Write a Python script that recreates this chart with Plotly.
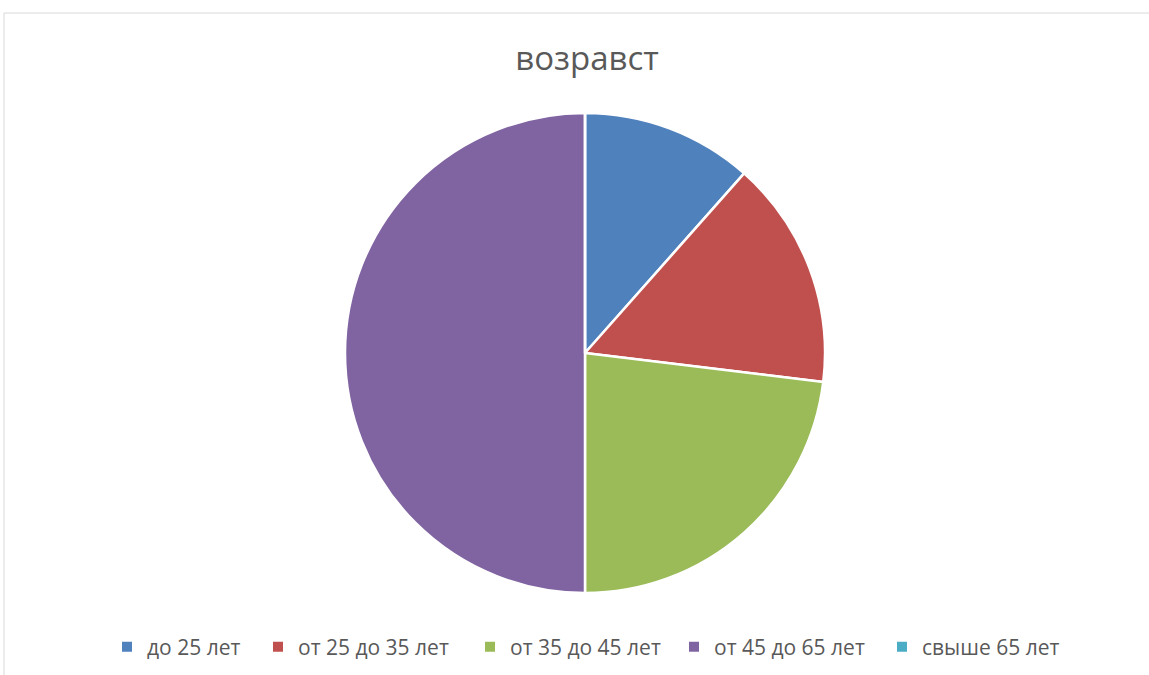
import plotly.graph_objects as go

categories = ["до 25 лет", "от 25 до 35 лет", "от 35 до 45 лет", "от 45 до 65 лет", "свыше 65 лет"]
values = [3, 4, 6, 13, 0]
colors = ["#4F81BD", "#C0504D", "#9BBB59", "#8064A2", "#4BACC6"]
title_text = "возравст"

W, H = 1149, 675
cx, cy, r = 585, 353, 240
legend_marker_x = [128, 279, 491, 695, 903]
legend_y = 647

fig = go.Figure()
fig.add_trace(go.Pie(
    labels=categories,
    values=values,
    sort=False,
    direction="clockwise",
    rotation=0,
    marker=dict(colors=colors, line=dict(color="white", width=2.5)),
    textinfo="none",
    hoverinfo="label+value+percent",
    showlegend=False,
    domain=dict(x=[(2 * cx) / W - 1, 1.0], y=[(H - cy - r) / H, (H - cy + r) / H]),
))

legend_layout = {}
for i, (cat, col, mx) in enumerate(zip(categories, colors, legend_marker_x)):
    name = "legend" if i == 0 else f"legend{i + 1}"
    fig.add_trace(go.Scatter(
        x=[None], y=[None], mode="markers", name=cat,
        marker=dict(symbol="square", size=10, color=col),
        legend=name, showlegend=True, hoverinfo="skip",
    ))
    legend_layout[name] = dict(
        orientation="h", x=(mx - 21) / W, xanchor="left", y=1 - legend_y / H, yanchor="middle",
        font=dict(family="Open Sans", size=21, color="#595959"),
        bgcolor="rgba(0,0,0,0)", borderwidth=0,
    )

fig.update_layout(
    width=W, height=H,
    margin=dict(l=0, r=0, t=0, b=0, autoexpand=False),
    paper_bgcolor="white",
    plot_bgcolor="white",
    xaxis=dict(visible=False),
    yaxis=dict(visible=False),
    title=dict(text=title_text, x=587 / W, xanchor="center", y=1 - 58 / H, yanchor="middle",
               font=dict(family="Open Sans", size=33, color="#595959")),
    showlegend=True,
    shapes=[dict(type="rect", xref="paper", yref="paper", x0=4 / W, x1=1.2, y0=-0.2, y1=1 - 13 / H,
                 line=dict(color="#D9D9D9", width=1), fillcolor="rgba(0,0,0,0)", layer="below")],
    **legend_layout,
)

fig.write_html("out.html", config={"displayModeBar": False},
               post_script="document.body.style.margin='0';document.body.style.overflow='hidden';")
